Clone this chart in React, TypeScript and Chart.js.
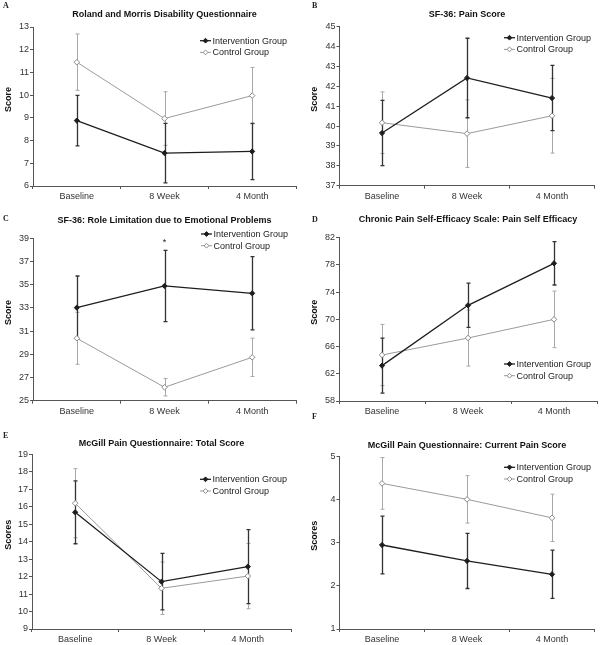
import React, { useEffect, useRef } from 'react';
import { Chart, registerables } from 'chart.js';

Chart.register(...registerables);

const categories = ['Baseline', '8 Week', '4 Month'];
const groupLabels = ['Intervention Group', 'Control Group'];

// Panel A
const rmdqTitle = 'Roland and Morris Disability Questionnaire';
const rmdqIntervention = [8.88, 7.45, 7.52];
const rmdqInterventionErr = [1.11, 1.31, 1.24];
const rmdqControl = [11.45, 8.97, 9.98];
const rmdqControlErr = [1.24, 1.18, 1.24];
const rmdqAxis = [6, 13, 1];

// Panel B
const painTitle = 'SF-36: Pain Score';
const painIntervention = [39.65, 42.42, 41.41];
const painInterventionErr = [1.64, 2.0, 1.64];
const painControl = [40.17, 39.62, 40.52];
const painControlErr = [1.55, 1.7, 1.88];
const painAxis = [37, 45, 1];

// Panel C
const roleTitle = 'SF-36: Role Limitation due to Emotional Problems';
const roleIntervention = [33.02, 34.89, 34.26];
const roleInterventionErr = [2.73, 3.07, 3.16];
const roleControl = [30.38, 26.16, 28.74];
const roleControlErr = [2.24, 0.75, 1.65];
const roleAxis = [25, 39, 2];

// Panel D
const efficacyTitle = 'Chronic Pain Self-Efficacy Scale: Pain Self Efficacy';
const efficacyIntervention = [63.2, 72.06, 78.23];
const efficacyInterventionErr = [4.04, 3.25, 3.18];
const efficacyControl = [64.76, 67.26, 70.0];
const efficacyControlErr = [4.5, 4.12, 4.16];
const efficacyAxis = [58, 82, 4];

// Panel E
const mcgillTotalTitle = 'McGill Pain Questionnaire: Total Score';
const mcgillTotalIntervention = [15.68, 11.71, 12.57];
const mcgillTotalInterventionErr = [1.8, 1.62, 2.12];
const mcgillTotalControl = [16.2, 11.33, 12.03];
const mcgillTotalControlErr = [1.98, 1.5, 1.87];
const mcgillTotalAxis = [9, 19, 1];

// Panel F
const mcgillCurrentTitle = 'McGill Pain Questionnaire: Current Pain Score';
const mcgillCurrentIntervention = [2.95, 2.58, 2.27];
const mcgillCurrentInterventionErr = [0.67, 0.64, 0.56];
const mcgillCurrentControl = [4.38, 4.01, 3.58];
const mcgillCurrentControlErr = [0.6, 0.55, 0.55];
const mcgillCurrentAxis = [1, 5, 1];

const FONT = "'Liberation Sans', Arial, Helvetica, sans-serif";
const INT_COLOR = '#1e1e1e';
const CTRL_COLOR = '#9a9a9a';

type PanelDef = {
  letter: string;
  title: string;
  yTitle: string;
  intervention: number[];
  interventionErr: number[];
  control: number[];
  controlErr: number[];
  axis: number[];
  left: number;
  top: number;
  layout: { padLeft: number; padRight: number; titleTop: number; titleBottom: number; xHeight: number; yWidth: number };
  legend: { x: number; y: number };
  letterPos: { x: number; y: number };
  marks?: { dataset: number; index: number; text: string }[];
};

const panels: PanelDef[] = [
  {
    letter: 'A', title: rmdqTitle, yTitle: 'Score',
    intervention: rmdqIntervention, interventionErr: rmdqInterventionErr,
    control: rmdqControl, controlErr: rmdqControlErr, axis: rmdqAxis,
    left: 0, top: 0,
    layout: { padLeft: 0, padRight: 5, titleTop: 10.5, titleBottom: 7.5, xHeight: 29, yWidth: 33 },
    legend: { x: 200, y: 40.7 }, letterPos: { x: 3, y: 2 },
  },
  {
    letter: 'B', title: painTitle, yTitle: 'Score',
    intervention: painIntervention, interventionErr: painInterventionErr,
    control: painControl, controlErr: painControlErr, axis: painAxis,
    left: 301, top: 0,
    layout: { padLeft: 5.5, padRight: 7.5, titleTop: 10.5, titleBottom: 7.2, xHeight: 29.3, yWidth: 33 },
    legend: { x: 203, y: 37.7 }, letterPos: { x: 312, y: 2 },
  },
  {
    letter: 'C', title: roleTitle, yTitle: 'Score',
    intervention: roleIntervention, interventionErr: roleInterventionErr,
    control: roleControl, controlErr: roleControlErr, axis: roleAxis,
    left: 0, top: 215,
    layout: { padLeft: 0, padRight: 5, titleTop: 1.5, titleBottom: 12.8, xHeight: 29.3, yWidth: 33 },
    legend: { x: 201, y: 19 }, letterPos: { x: 3, y: 215 },
    marks: [{ dataset: 0, index: 1, text: '*' }],
  },
  {
    letter: 'D', title: efficacyTitle, yTitle: 'Score',
    intervention: efficacyIntervention, interventionErr: efficacyInterventionErr,
    control: efficacyControl, controlErr: efficacyControlErr, axis: efficacyAxis,
    left: 301, top: 215,
    layout: { padLeft: 5, padRight: 5, titleTop: 0, titleBottom: 13.7, xHeight: 29, yWidth: 33 },
    legend: { x: 203, y: 149 }, letterPos: { x: 312, y: 216 },
  },
  {
    letter: 'E', title: mcgillTotalTitle, yTitle: 'Scores',
    intervention: mcgillTotalIntervention, interventionErr: mcgillTotalInterventionErr,
    control: mcgillTotalControl, controlErr: mcgillTotalControlErr, axis: mcgillTotalAxis,
    left: 0, top: 430,
    layout: { padLeft: 0, padRight: 10, titleTop: 9.5, titleBottom: 5.8, xHeight: 16, yWidth: 32 },
    legend: { x: 200, y: 49.3 }, letterPos: { x: 3, y: 432 },
  },
  {
    letter: 'F', title: mcgillCurrentTitle, yTitle: 'Scores',
    intervention: mcgillCurrentIntervention, interventionErr: mcgillCurrentInterventionErr,
    control: mcgillCurrentControl, controlErr: mcgillCurrentControlErr, axis: mcgillCurrentAxis,
    left: 301, top: 430,
    layout: { padLeft: 5.5, padRight: 7.5, titleTop: 11.2, titleBottom: 6.5, xHeight: 16, yWidth: 33 },
    legend: { x: 203, y: 37.3 }, letterPos: { x: 312, y: 413 },
  },
];

function drawDiamond(ctx: CanvasRenderingContext2D, x: number, y: number, r: number, fill: string, stroke: string) {
  ctx.beginPath();
  ctx.moveTo(x, y - r);
  ctx.lineTo(x + r, y);
  ctx.lineTo(x, y + r);
  ctx.lineTo(x - r, y);
  ctx.closePath();
  ctx.fillStyle = fill;
  ctx.fill();
  ctx.strokeStyle = stroke;
  ctx.lineWidth = 1;
  ctx.stroke();
}

const errorBarPlugin = {
  id: 'errorBars',
  beforeDatasetsDraw(chart: any) {
    const { ctx } = chart;
    const yScale = chart.scales.y;
    for (let i = chart.data.datasets.length - 1; i >= 0; i--) {
      const ds = chart.data.datasets[i];
      const meta = chart.getDatasetMeta(i);
      const errs: number[] = ds.errors || [];
      ctx.save();
      ctx.strokeStyle = ds.errorColor;
      ctx.lineWidth = ds.errorWidth;
      meta.data.forEach((pt: any, j: number) => {
        const v = ds.data[j];
        const e = errs[j];
        if (e == null) return;
        const x = Math.round(pt.x) + 0.5;
        const top = yScale.getPixelForValue(v + e);
        const bot = yScale.getPixelForValue(v - e);
        ctx.beginPath();
        ctx.moveTo(x, top);
        ctx.lineTo(x, bot);
        ctx.moveTo(x - 2, top);
        ctx.lineTo(x + 2, top);
        ctx.moveTo(x - 2, bot);
        ctx.lineTo(x + 2, bot);
        ctx.stroke();
      });
      ctx.restore();
    }
  },
};

const marksPlugin = {
  id: 'marks',
  afterDatasetsDraw(chart: any, _args: any, opts: any) {
    const items = (opts && opts.items) || [];
    const { ctx } = chart;
    const yScale = chart.scales.y;
    items.forEach((m: any) => {
      const ds = chart.data.datasets[m.dataset];
      const pt = chart.getDatasetMeta(m.dataset).data[m.index];
      const topVal = ds.data[m.index] + (ds.errors ? ds.errors[m.index] : 0);
      const y = yScale.getPixelForValue(topVal) - 8;
      ctx.save();
      ctx.fillStyle = '#222';
      ctx.font = `9px ${FONT}`;
      ctx.textAlign = 'center';
      ctx.textBaseline = 'middle';
      ctx.fillText(m.text, pt.x, y);
      ctx.restore();
    });
  },
};

const yTitlePlugin = {
  id: 'yTitle',
  afterDraw(chart: any, _args: any, opts: any) {
    const { ctx, chartArea } = chart;
    const yScale = chart.scales.y;
    const cx = yScale.left + 8.4;
    const cy = (chartArea.top + chartArea.bottom) / 2 - 7;
    ctx.save();
    ctx.translate(cx, cy);
    ctx.rotate(-Math.PI / 2);
    ctx.fillStyle = '#111';
    ctx.font = `bold 9px ${FONT}`;
    ctx.textAlign = 'center';
    ctx.textBaseline = 'middle';
    ctx.fillText(opts.text, 0, 0);
    ctx.restore();
  },
};

const innerLegendPlugin = {
  id: 'innerLegend',
  afterDraw(chart: any, _args: any, opts: any) {
    const { ctx } = chart;
    const x0 = opts.x;
    let y = opts.y;
    chart.data.datasets.forEach((ds: any) => {
      ctx.save();
      ctx.strokeStyle = ds.borderColor;
      ctx.lineWidth = ds.borderWidth;
      ctx.beginPath();
      ctx.moveTo(x0, y);
      ctx.lineTo(x0 + 11, y);
      ctx.stroke();
      drawDiamond(ctx, x0 + 5.5, y, 2.4, ds.pointBackgroundColor, ds.pointBorderColor);
      ctx.fillStyle = '#222';
      ctx.font = `9px ${FONT}`;
      ctx.textAlign = 'left';
      ctx.textBaseline = 'middle';
      ctx.fillText(ds.label, x0 + 12.5, y + 0.5);
      ctx.restore();
      y += 11.7;
    });
  },
};

function Panel({ def }: { def: PanelDef }) {
  const ref = useRef<HTMLCanvasElement | null>(null);
  useEffect(() => {
    if (!ref.current) return;
    const L = def.layout;
    const chart = new Chart(ref.current, {
      type: 'line',
      data: {
        labels: categories,
        datasets: [
          {
            label: groupLabels[0],
            data: def.intervention,
            errors: def.interventionErr,
            errorColor: '#333333',
            errorWidth: 1.3,
            borderColor: INT_COLOR,
            borderWidth: 1.3,
            pointStyle: 'rectRot',
            pointRadius: 2.6,
            pointBackgroundColor: INT_COLOR,
            pointBorderColor: INT_COLOR,
            pointBorderWidth: 1,
            tension: 0,
            fill: false,
          } as any,
          {
            label: groupLabels[1],
            data: def.control,
            errors: def.controlErr,
            errorColor: '#a8a8a8',
            errorWidth: 1,
            borderColor: CTRL_COLOR,
            borderWidth: 1,
            pointStyle: 'rectRot',
            pointRadius: 2.8,
            pointBackgroundColor: '#ffffff',
            pointBorderColor: '#8a8a8a',
            pointBorderWidth: 1,
            tension: 0,
            fill: false,
          } as any,
        ],
      },
      options: {
        responsive: false,
        animation: false,
        devicePixelRatio: 1,
        layout: { padding: { left: L.padLeft, right: L.padRight, top: 0, bottom: 0 } },
        plugins: {
          legend: { display: false },
          tooltip: { enabled: false },
          title: {
            display: true,
            text: def.title,
            fullSize: false,
            color: '#111',
            font: { family: FONT, size: 9, weight: 'bold', lineHeight: 1 },
            padding: { top: L.titleTop, bottom: L.titleBottom },
          },
          innerLegend: def.legend,
          marks: { items: def.marks || [] },
          yTitle: { text: def.yTitle },
        } as any,
        scales: {
          x: {
            type: 'category',
            offset: true,
            grid: { display: true, offset: true, drawOnChartArea: false, drawTicks: true, tickLength: 3, color: '#555' },
            border: { display: true, color: '#555', width: 1 },
            ticks: { color: '#333', font: { family: FONT, size: 9 }, padding: 2, maxRotation: 0 },
            afterFit: (s: any) => { s.height = L.xHeight; },
          },
          y: {
            min: def.axis[0],
            max: def.axis[1],
            ticks: { stepSize: def.axis[2], color: '#333', font: { family: FONT, size: 9 }, padding: 1 },
            grid: { display: true, drawOnChartArea: false, drawTicks: true, tickLength: 3, color: '#555' },
            border: { display: true, color: '#555', width: 1 },
            title: { display: false },
            afterFit: (s: any) => { s.width = L.yWidth; },
          },
        },
      } as any,
      plugins: [errorBarPlugin, marksPlugin, innerLegendPlugin, yTitlePlugin] as any,
    });
    return () => chart.destroy();
  }, [def]);
  return (
    <canvas
      ref={ref}
      width={301}
      height={215}
      style={{ position: 'absolute', left: def.left, top: def.top, width: 301, height: 215 }}
    />
  );
}

export default function App() {
  return (
    <div style={{ position: 'absolute', left: 0, top: 0, width: 602, height: 645, background: '#fff', overflow: 'hidden' }}>
      {panels.map((p) => (
        <Panel key={p.letter} def={p} />
      ))}
      {panels.map((p) => (
        <span
          key={'l' + p.letter}
          style={{
            position: 'absolute',
            left: p.letterPos.x,
            top: p.letterPos.y,
            font: "bold 8px 'Liberation Serif', 'Times New Roman', serif",
            lineHeight: '8px',
            color: '#222',
          }}
        >
          {p.letter}
        </span>
      ))}
    </div>
  );
}
